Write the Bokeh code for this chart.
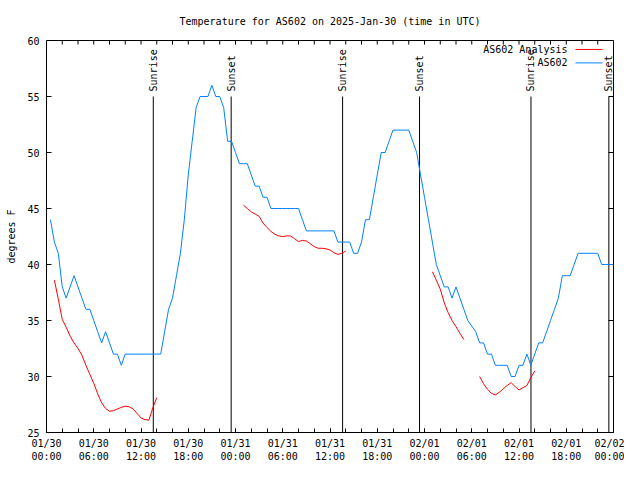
import numpy as np
from bokeh.plotting import figure
from bokeh.models import Range1d, FixedTicker, Label
from bokeh.core.properties import value
from bokeh.embed import file_html
from bokeh.resources import INLINE

TITLE = "Temperature for AS602 on 2025-Jan-30 (time in UTC)"
FONT = "DejaVu Sans Mono"

# x axis: hours since 2025-01-30 00:00 UTC
tick_hours = [0, 6, 12, 18, 24, 30, 36, 42, 48, 54, 60, 66, 72]
tick_dates = ["01/30", "01/30", "01/30", "01/30", "01/31", "01/31", "01/31", "01/31",
              "02/01", "02/01", "02/01", "02/01", "02/02"]
tick_times = ["00:00", "06:00", "12:00", "18:00", "00:00", "06:00", "12:00", "18:00",
              "00:00", "06:00", "12:00", "18:00", "00:00"]
minor_hours = list(range(0, 73, 2))
y_ticks = [25, 30, 35, 40, 45, 50, 55, 60]
X_MIN, X_MAX = 0, 72
Y_MIN, Y_MAX = 25, 60

# observed temperature (AS602), every 30 min from 00:30
obs_start = 0.5
obs_step = 0.5
obs_temp = [
    44, 42, 41, 38, 37, 38, 39, 38, 37, 36,        # 0.5 - 5.0
    36, 35, 34, 33, 34, 33, 32, 32, 31, 32,        # 5.5 - 10.0
    32, 32, 32, 32, 32, 32, 32, 32, 32, 34,        # 10.5 - 15.0
    36, 37, 39, 41, 44, 48, 51, 54, 55, 55,        # 15.5 - 20.0
    55, 56, 55, 55, 54, 51, 51, 50, 49, 49,        # 20.5 - 25.0
    49, 48, 47, 47, 46, 46, 45, 45, 45, 45,        # 25.5 - 30.0
    45, 45, 45, 45, 44, 43, 43, 43, 43, 43,        # 30.5 - 35.0
    43, 43, 43, 42, 42, 42, 42, 41, 41, 42,        # 35.5 - 40.0
    44, 44, 46, 48, 50, 50, 51, 52, 52, 52,        # 40.5 - 45.0
    52, 52, 51, 50, 48, 46, 44, 42, 40, 39,        # 45.5 - 50.0
    38, 38, 37, 38, 37, 36, 35, 34.5, 34, 33,      # 50.5 - 55.0
    33, 32, 32, 31, 31, 31, 31, 30, 30, 31,        # 55.5 - 60.0
    31, 32, 31, 32, 33, 33, 34, 35, 36, 37,        # 60.5 - 65.0
    39, 39, 39, 40, 41, 41, 41, 41, 41, 41,        # 65.5 - 70.0
    40, 40, 40, 40,                                # 70.5 - 72.0
]

# analysis temperature (AS602 Analysis), segments every 30 min
ana_step = 0.5
ana1_start = 1.0
ana1_temp = [38.6, 36.9, 35.1, 34.4, 33.6, 33.0, 32.5, 31.9, 31.0, 30.2, 29.4, 28.45,
             27.65, 27.15, 26.9, 26.95, 27.1, 27.25, 27.35, 27.3, 27.1, 26.7, 26.3,
             26.15, 26.1, 27.2, 28.1]
ana2_start = 25.0
ana2_temp = [45.3, 45.0, 44.7, 44.5, 44.3, 43.7, 43.3, 42.95, 42.7, 42.55, 42.5, 42.55,
             42.55, 42.3, 42.05, 42.15, 42.1, 41.85, 41.6, 41.45, 41.45, 41.4, 41.3,
             41.05, 40.9, 41.0, 41.2]
ana3_start = 49.0
ana3_temp = [39.35, 38.6, 37.8, 36.6, 35.7, 35.0, 34.45, 33.85, 33.3]
ana4_start = 55.0
ana4_temp = [30.0, 29.35, 28.85, 28.5, 28.35, 28.6, 28.9, 29.2, 29.45, 29.1, 28.8, 29.0,
             29.2, 29.9, 30.5]

sunrise_hours = [13.56, 37.60, 61.52]
sunset_hours = [23.45, 47.37, 71.41]

obs_hours = [obs_start + obs_step * i for i in range(len(obs_temp))]
segments = []
for st, vals in [(ana1_start, ana1_temp), (ana2_start, ana2_temp),
                 (ana3_start, ana3_temp), (ana4_start, ana4_temp)]:
    segments.append(([st + ana_step * i for i in range(len(vals))], vals))

BLUE = "#0080ff"
RED = "#ff0000"

p = figure(width=624, height=464, x_range=Range1d(X_MIN, X_MAX), y_range=Range1d(Y_MIN, Y_MAX),
           output_backend="svg", toolbar_location=None, title=TITLE,
           min_border_left=46, min_border_right=11, min_border_top=40, min_border_bottom=30)

p.title.text_font = FONT
p.title.text_font_size = "10px"
p.title.text_font_style = "normal"
p.title.text_color = "black"
p.title.align = "center"
p.title.standoff = 27

p.xgrid.visible = False
p.ygrid.visible = False
p.outline_line_color = "black"
p.outline_line_width = 1
p.outline_line_alpha = 1

xticker = FixedTicker(ticks=tick_hours, minor_ticks=minor_hours)
yticker = FixedTicker(ticks=y_ticks, minor_ticks=[])

xa = p.xaxis[0]
xa.ticker = xticker
xa.major_label_overrides = {h: f"{d}\n{t}" for h, d, t in zip(tick_hours, tick_dates, tick_times)}
xa.major_tick_in = 4
xa.major_tick_out = 0
xa.minor_tick_in = 4
xa.minor_tick_out = 0
xa.axis_line_color = None
xa.major_tick_line_color = "black"
xa.minor_tick_line_color = "black"
xa.major_label_text_font = FONT
xa.major_label_text_font_size = "10px"
xa.major_label_text_color = "black"
xa.major_label_standoff = 5

ya = p.yaxis[0]
ya.ticker = yticker
ya.major_tick_in = 5
ya.major_tick_out = 0
ya.minor_tick_in = 0
ya.minor_tick_out = 0
ya.axis_line_color = None
ya.major_label_text_font = FONT
ya.major_label_text_font_size = "10px"
ya.major_label_text_color = "black"
ya.major_label_standoff = 7
ya.axis_label = "degrees F"
ya.axis_label_text_font = FONT
ya.axis_label_text_font_size = "10px"
ya.axis_label_text_font_style = "normal"
ya.axis_label_text_color = "black"
ya.axis_label_standoff = 7

# mirrored inward ticks on top and right borders (gnuplot style)
top_tick_len = 0.36     # in degrees F
right_tick_len = 0.62   # in hours
p.segment(x0=minor_hours, y0=[Y_MAX] * len(minor_hours), x1=minor_hours,
          y1=[Y_MAX - top_tick_len] * len(minor_hours), line_color="black", line_width=1)
p.segment(x0=[X_MAX] * len(y_ticks), y0=y_ticks, x1=[X_MAX - right_tick_len] * len(y_ticks),
          y1=y_ticks, line_color="black", line_width=1)

# sunrise / sunset markers
sun_hours = sunrise_hours + sunset_hours
sun_text = ["Sunrise"] * len(sunrise_hours) + ["Sunset"] * len(sunset_hours)
p.segment(x0=sun_hours, y0=[Y_MIN] * len(sun_hours), x1=sun_hours, y1=[55] * len(sun_hours),
          line_color="black", line_width=1)
p.text(x=sun_hours, y=[55.45] * len(sun_hours), text=sun_text, angle=np.pi / 2,
       text_align="left", text_baseline="middle", text_font=value(FONT),
       text_font_size="10px", text_color="black")

# data lines
for hrs, vals in segments:
    p.line(hrs, vals, line_color=RED, line_width=1)
p.line(obs_hours, obs_temp, line_color=BLUE, line_width=1)

# gnuplot-style key (text, then sample line)
key_items = [("AS602 Analysis", RED, 59.2), ("AS602", BLUE, 58.0)]
for label, col, yk in key_items:
    p.add_layout(Label(x=66.16, y=yk, text=label, text_align="right", text_baseline="middle",
                       text_font=FONT, text_font_size="10px", text_color="black"))
    p.segment(x0=[67.17], y0=[yk], x1=[70.6], y1=[yk], line_color=col, line_width=1)

open("out.html", "w").write(file_html(p, INLINE))
